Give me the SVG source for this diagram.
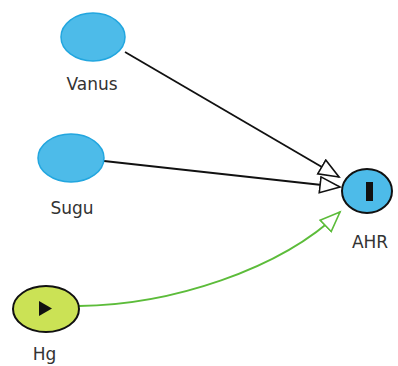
<svg xmlns="http://www.w3.org/2000/svg" width="398" height="366" viewBox="0 0 398 366">
<defs>
<style>
.lbl{font-family:"DejaVu Sans",sans-serif;font-size:17px;fill:#333;text-anchor:middle}
.blue{fill:#4dbbe9;stroke:#22a6df;stroke-width:1.5}
.edge{fill:none;stroke-width:1.8}
</style>
<marker id="arrK" markerUnits="userSpaceOnUse" markerWidth="24" markerHeight="20" refX="21" refY="9" orient="auto">
<path d="M1,1 L21,9 L1,17 Z" fill="#fff" stroke="#111" stroke-width="1.6"/>
</marker>
<marker id="arrG" markerUnits="userSpaceOnUse" markerWidth="24" markerHeight="20" refX="21" refY="9" orient="auto">
<path d="M1,1 L21,9 L1,17 Z" fill="#fff" stroke="#5cbc3a" stroke-width="1.6"/>
</marker>
</defs>
<rect width="398" height="366" fill="#fff"/>
<g id="edges">
<line class="edge" x1="125" y1="52" x2="339" y2="177" stroke="#111" marker-end="url(#arrK)"/>
<line class="edge" x1="104" y1="161" x2="340" y2="187" stroke="#111" marker-end="url(#arrK)"/>
<path class="edge" d="M79,306 C170,305 280,270 340,212" stroke="#5cbc3a" marker-end="url(#arrG)"/>
</g>
<g id="Vanus">
<ellipse class="blue" cx="93" cy="37" rx="32" ry="24"/>
<text class="lbl" x="92" y="90">Vanus</text>
</g>
<g id="Sugu">
<ellipse class="blue" cx="71" cy="158" rx="33" ry="24"/>
<text class="lbl" x="72" y="214">Sugu</text>
</g>
<g id="Hg">
<ellipse cx="46" cy="309" rx="33" ry="23" fill="#cbe255" stroke="#111" stroke-width="2"/>
<path d="M39,301 L52,308.5 L39,316 Z" fill="#111"/>
<text class="lbl" x="44.5" y="360">Hg</text>
</g>
<g id="AHR">
<ellipse cx="367" cy="191" rx="25" ry="22" fill="#4dbbe9" stroke="#111" stroke-width="2"/>
<rect x="366" y="182" width="7" height="19" fill="#111"/>
<text class="lbl" x="370" y="248">AHR</text>
</g>
</svg>
